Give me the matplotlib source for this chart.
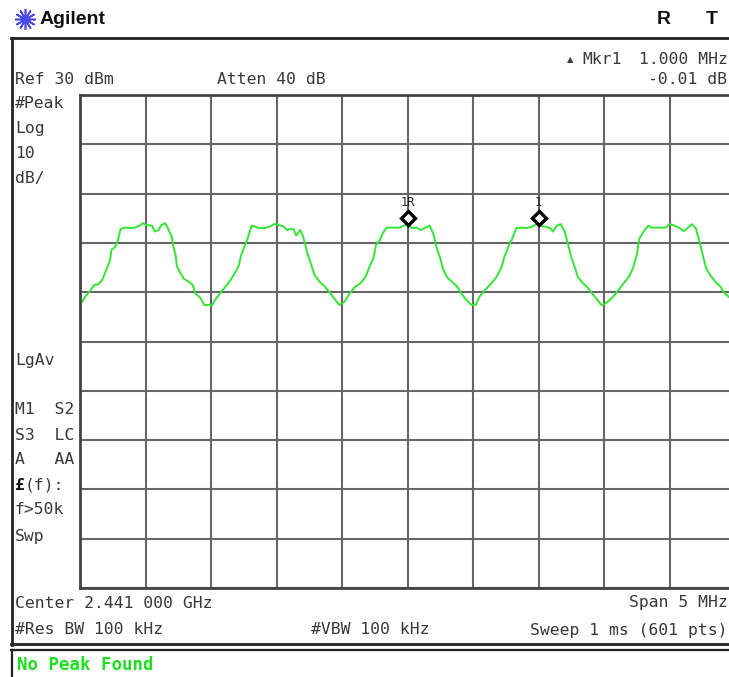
import numpy as np
import matplotlib
matplotlib.use("Agg")
import matplotlib.pyplot as plt
from matplotlib.lines import Line2D

# trace: offset from 2.441 GHz centre (MHz) and level (dBm)
freq_mhz = [-2.50, -2.46, -2.42, -2.39, -2.36, -2.33, -2.30, -2.27, -2.26, -2.23,
            -2.21, -2.19, -2.16, -2.12, -2.08, -2.04, -2.02, -1.99, -1.95, -1.93,
            -1.90, -1.88, -1.85, -1.83, -1.80, -1.79, -1.77, -1.76, -1.74, -1.71,
            -1.67, -1.64, -1.62, -1.58, -1.55, -1.51,
            -1.49, -1.47, -1.43, -1.39, -1.35, -1.32, -1.29, -1.27, -1.24, -1.22,
            -1.19, -1.16, -1.14, -1.09, -1.05, -1.02, -1.00, -0.97, -0.95, -0.92,
            -0.90, -0.87, -0.85, -0.82, -0.80, -0.78, -0.76, -0.73, -0.71, -0.67,
            -0.63, -0.59, -0.55, -0.52,
            -0.48, -0.44, -0.40, -0.36, -0.32, -0.29, -0.26, -0.24, -0.21, -0.19,
            -0.16, -0.11, -0.06, -0.02, 0.00, 0.03, 0.07, 0.10, 0.13, 0.17,
            0.20, 0.22, 0.25, 0.27, 0.30, 0.34, 0.38, 0.41, 0.45, 0.49,
            0.52, 0.55, 0.59, 0.64, 0.68, 0.72, 0.74, 0.77, 0.80, 0.83,
            0.87, 0.91, 0.95, 0.99, 1.00, 1.01, 1.05, 1.09, 1.11, 1.14,
            1.17, 1.20, 1.23, 1.25, 1.28, 1.30, 1.34, 1.38, 1.42, 1.46, 1.48,
            1.49, 1.53, 1.57, 1.61, 1.65, 1.69, 1.72, 1.75, 1.77, 1.81,
            1.84, 1.86, 1.91, 1.97, 2.00, 2.03, 2.07, 2.11, 2.15, 2.17,
            2.20, 2.23, 2.26, 2.28, 2.31, 2.35, 2.39, 2.42, 2.45, 2.50]
level_dbm = [-12.6, -10.9, -9.6, -8.5, -8.4, -7.5, -5.5, -3.5, -1.4, -0.8,
             0.6, 2.8, 3.1, 3.0, 3.1, 3.6, 4.0, 3.6, 3.5, 2.3,
             2.6, 3.6, 4.0, 3.0, 1.3, -0.4, -2.5, -4.8, -5.8, -7.2,
             -7.9, -8.5, -10.2, -11.2, -12.6, -12.6,
             -12.6, -11.6, -10.2, -8.9, -7.5, -6.2, -4.8, -2.5, -0.4, 0.9,
             3.5, 3.3, 3.0, 3.0, 3.3, 3.8, 3.8, 3.5, 3.4, 2.6,
             2.8, 2.8, 1.5, 2.6, 1.6, -0.4, -2.5, -4.8, -6.5, -7.9,
             -8.9, -10.2, -11.6, -12.6,
             -11.9, -10.2, -8.9, -8.2, -6.9, -4.8, -3.1, -0.4, 0.6, 1.9,
             3.1, 3.1, 3.1, 3.6, 4.2, 3.0, 3.1, 2.6, 3.0, 3.5,
             1.6, -0.8, -3.1, -5.2, -6.9, -7.9, -8.9, -10.2, -11.6, -12.6,
             -12.6, -10.9, -9.6, -8.2, -6.9, -4.8, -2.8, -0.8, 0.9, 3.0,
             3.1, 3.0, 3.3, 3.8, 4.2, 3.5, 3.3, 3.0, 2.3, 3.5,
             3.8, 2.3, -0.8, -2.8, -5.2, -6.9, -8.2, -9.2, -10.6, -11.9, -12.6,
             -12.6, -11.9, -10.9, -9.6, -8.2, -6.9, -5.2, -2.5, 0.9, 2.6,
             3.5, 3.1, 3.1, 3.1, 3.8, 3.6, 3.1, 2.4, 3.3, 3.8,
             3.0, 0.2, -3.1, -5.2, -6.5, -7.9, -8.9, -10.2, -10.9, -12.0]

# markers
mkr_freq = [0.0, 1.0]
mkr_level = [5.0, 5.0]
mkr_label = ["1R", "1"]

# left side annotation column: (text, y pixel)
side_labels = [("#Peak", 104), ("Log", 129), ("10", 153), ("dB/", 178),
               ("LgAv", 360), ("M1  S2", 410), ("S3  LC", 435), ("A   AA", 460),
               ("f>50k", 510), ("Swp", 536)]

W, H = 729, 677
fig = plt.figure(figsize=(W / 100, H / 100), dpi=100)
fig.patch.set_facecolor("white")


def px(x, y):
    return x / W, 1 - y / H


mono = "DejaVu Sans Mono"
tc = "#383838"

# graticule axes, runs past the right edge like the screenshot
ax = fig.add_axes([80 / W, 1 - 588 / H, 655 / W, 493 / H])
ax.set_xlim(-2.5, 2.5)
ax.set_ylim(-70, 30)
ax.set_xticks(np.arange(-2.5, 2.51, 0.5))
ax.set_yticks(np.arange(-70, 31, 10))
ax.tick_params(length=0, labelbottom=False, labelleft=False)
ax.grid(True, color="#666666", lw=1.5)
for s in ax.spines.values():
    s.set_color("#444444")
    s.set_linewidth(2)

ax.plot(freq_mhz, level_dbm, color="#33e633", lw=1.4)
ax.plot(mkr_freq, mkr_level, ls="none", marker="D", ms=7, mfc="white",
        mec="black", mew=2.4, zorder=5)
for f, l, t in zip(mkr_freq, mkr_level, mkr_label):
    ax.annotate(t, (f, l), xytext=(0, 11), textcoords="offset points",
                ha="center", va="center", fontsize=8.5, family=mono, color="#222222")

# frame lines
def hline(y, x0, x1, lw=2, c="#222222"):
    fig.add_artist(Line2D([x0 / W, x1 / W], [1 - y / H, 1 - y / H], lw=lw, color=c))


def vline(x, y0, y1, lw=2, c="#222222"):
    fig.add_artist(Line2D([x / W, x / W], [1 - y0 / H, 1 - y1 / H], lw=lw, color=c))


hline(38, 11, W + 5)
vline(12, 38, 645)
hline(644, 11, W + 5, lw=2)
hline(650, 11, W + 5, lw=1.6)
vline(12, 650, H + 5, lw=1.6)

# header
logo = fig.add_axes([15 / W, 1 - 29 / H, 20 / W, 20 / H])
logo.axis("off")
logo.plot([0], [0], marker=(12, 2, 0), ms=15, mew=1.2, color="#4a4ae8")
logo.set_xlim(-1, 1)
logo.set_ylim(-1, 1)
fig.text(*px(40, 20), "Agilent", fontsize=14, weight="bold", family="Liberation Sans",
         va="center", ha="left", color="#111111")
fig.text(*px(664, 19), "R", fontsize=14, weight="bold", family="Liberation Sans",
         va="center", ha="center", color="#111111")
fig.text(*px(712, 19), "T", fontsize=14, weight="bold", family="Liberation Sans",
         va="center", ha="center", color="#111111")

fs = 11.8
fig.text(*px(570, 60), "▲", fontsize=6, family="DejaVu Sans", va="center", ha="center", color=tc)
fig.text(*px(582, 59), "Mkr1", fontsize=fs, family=mono, va="center", ha="left", color=tc)
fig.text(*px(728, 59), "1.000 MHz", fontsize=fs, family=mono, va="center", ha="right", color=tc)
fig.text(*px(15, 80), "Ref 30 dBm", fontsize=fs, family=mono, va="center", ha="left", color=tc)
fig.text(*px(217, 80), "Atten 40 dB", fontsize=fs, family=mono, va="center", ha="left", color=tc)
fig.text(*px(727, 80), "-0.01 dB", fontsize=fs, family=mono, va="center", ha="right", color=tc)

for t, y in side_labels:
    fig.text(*px(15, y), t, fontsize=fs, family=mono, va="center", ha="left", color=tc)
fig.text(*px(15, 485), "£", fontsize=fs, family=mono, weight="bold", va="center", ha="left", color="#111111")
fig.text(*px(25, 485), "(f):", fontsize=fs, family=mono, va="center", ha="left", color=tc)

fig.text(*px(15, 603), "Center 2.441 000 GHz", fontsize=fs, family=mono, va="center", ha="left", color=tc)
fig.text(*px(728, 603), "Span 5 MHz", fontsize=fs, family=mono, va="center", ha="right", color=tc)
fig.text(*px(15, 630), "#Res BW 100 kHz", fontsize=fs, family=mono, va="center", ha="left", color=tc)
fig.text(*px(311, 630), "#VBW 100 kHz", fontsize=fs, family=mono, va="center", ha="left", color=tc)
fig.text(*px(727, 630), "Sweep 1 ms (601 pts)", fontsize=fs, family=mono, va="center", ha="right", color=tc)

fig.text(*px(17, 665), "No Peak Found", fontsize=12.5, family=mono, weight="bold",
         va="center", ha="left", color="#1ee01e")

fig.savefig("out.png", dpi=100)
